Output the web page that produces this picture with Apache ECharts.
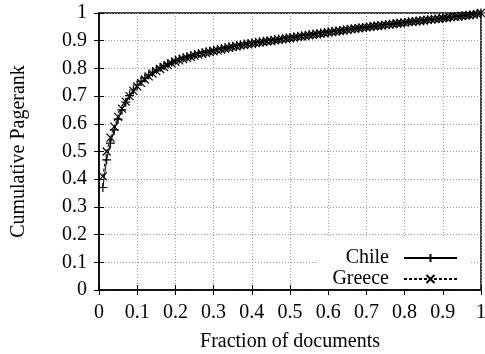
<!DOCTYPE html>
<html><head><meta charset="utf-8">
<script src="https://cdn.jsdelivr.net/npm/echarts@6/dist/echarts.min.js"></script>
<style>html,body{margin:0;padding:0;background:#fff}#c{width:485px;height:354px}</style>
</head><body><div id="c"></div>
<script>
const xs = [0.01,0.02,0.03,0.04,0.05,0.06,0.07,0.08,0.09,0.10,
0.11,0.12,0.13,0.14,0.15,0.16,0.17,0.18,0.19,0.20,
0.21,0.22,0.23,0.24,0.25,0.26,0.27,0.28,0.29,0.30,
0.31,0.32,0.33,0.34,0.35,0.36,0.37,0.38,0.39,0.40,
0.41,0.42,0.43,0.44,0.45,0.46,0.47,0.48,0.49,0.50,
0.51,0.52,0.53,0.54,0.55,0.56,0.57,0.58,0.59,0.60,
0.61,0.62,0.63,0.64,0.65,0.66,0.67,0.68,0.69,0.70,
0.71,0.72,0.73,0.74,0.75,0.76,0.77,0.78,0.79,0.80,
0.81,0.82,0.83,0.84,0.85,0.86,0.87,0.88,0.89,0.90,
0.91,0.92,0.93,0.94,0.95,0.96,0.97,0.98,0.99,1.00];
const chile = [0.370,0.470,0.530,0.578,0.617,0.650,0.678,0.702,0.722,0.740,
0.753,0.765,0.776,0.786,0.795,0.803,0.810,0.817,0.823,0.829,
0.834,0.838,0.842,0.846,0.850,0.854,0.857,0.860,0.863,0.866,
0.869,0.872,0.875,0.878,0.880,0.883,0.885,0.888,0.890,0.892,
0.894,0.896,0.898,0.900,0.902,0.904,0.906,0.908,0.910,0.912,
0.914,0.916,0.918,0.920,0.922,0.924,0.926,0.928,0.930,0.932,
0.934,0.935,0.937,0.939,0.941,0.942,0.944,0.946,0.948,0.949,
0.951,0.953,0.954,0.956,0.958,0.959,0.961,0.963,0.964,0.966,
0.968,0.969,0.971,0.972,0.974,0.976,0.977,0.979,0.980,0.982,
0.984,0.985,0.987,0.988,0.990,0.992,0.993,0.995,0.997,1.000];
const greece = [0.410,0.500,0.550,0.590,0.625,0.655,0.680,0.700,0.719,0.735,
0.748,0.760,0.771,0.781,0.790,0.798,0.805,0.812,0.818,0.824,
0.829,0.834,0.838,0.842,0.846,0.850,0.853,0.856,0.859,0.862,
0.865,0.868,0.871,0.874,0.877,0.879,0.882,0.884,0.887,0.889,
0.891,0.893,0.895,0.897,0.899,0.901,0.903,0.905,0.907,0.909,
0.911,0.913,0.915,0.917,0.919,0.921,0.923,0.925,0.927,0.929,
0.931,0.933,0.935,0.937,0.939,0.941,0.943,0.945,0.947,0.948,
0.950,0.952,0.953,0.955,0.957,0.958,0.960,0.962,0.963,0.965,
0.967,0.968,0.970,0.971,0.973,0.975,0.976,0.978,0.979,0.981,
0.983,0.984,0.986,0.987,0.989,0.991,0.992,0.994,0.996,1.000];
const seriesNames = ['Chile','Greece'];
const xTitle = 'Fraction of documents';
const yTitle = 'Cumulative Pagerank';

const FONT = 'Liberation Serif';
const FS = 20;
const grid = {left:99, right:4, top:13, bottom:64};
const gridLine = {show:true, lineStyle:{color:'#999', width:1, type:[1,2]}};
const pairs = a => xs.map((x,i)=>[x,a[i]]);
const plus = 'path://M0,5L10,5M5,0L5,10';
const cross = 'path://M0,0L10,10M0,10L10,0';

const chart = echarts.init(document.getElementById('c'));
chart.setOption({
  animation:false,
  backgroundColor:'#fff',
  grid:Object.assign({show:true, borderColor:'#000', borderWidth:1.5, backgroundColor:'transparent', containLabel:false, outerBoundsMode:'none'}, grid),
  xAxis:[{
    type:'value', min:0, max:1, interval:0.1,
    name:xTitle, nameLocation:'middle', nameGap:42,
    nameTextStyle:{fontFamily:FONT, fontSize:FS, color:'#000'},
    axisLine:{show:true, onZero:false, lineStyle:{color:'#000', width:1.5}},
    axisTick:{show:true, inside:true, length:5, lineStyle:{color:'#000'}},
    axisLabel:{fontFamily:FONT, fontSize:FS, color:'#000', margin:13, formatter:v=>String(+v.toFixed(1))},
    splitLine:gridLine
  },{
    type:'value', min:0, max:1, interval:0.1, position:'top',
    axisLine:{show:false}, axisLabel:{show:false}, splitLine:{show:false},
    axisTick:{show:true, inside:true, length:5, lineStyle:{color:'#000'}}
  }],
  yAxis:[{
    type:'value', min:0, max:1, interval:0.1,
    name:yTitle, nameLocation:'middle', nameGap:70,
    nameTextStyle:{fontFamily:FONT, fontSize:FS, color:'#000'},
    axisLine:{show:true, onZero:false, lineStyle:{color:'#000', width:1.5}},
    axisTick:{show:true, inside:true, length:5, lineStyle:{color:'#000'}},
    axisLabel:{fontFamily:FONT, fontSize:FS, color:'#000', margin:12, formatter:v=>String(+v.toFixed(1))},
    splitLine:gridLine
  },{
    type:'value', min:0, max:1, interval:0.1, position:'right',
    axisLine:{show:false}, axisLabel:{show:false}, splitLine:{show:false},
    axisTick:{show:true, inside:true, length:5, lineStyle:{color:'#000'}}
  }],
  legend:{
    orient:'vertical', right:15, bottom:65, align:'right',
    backgroundColor:'#fff', padding:[10,12,0,14], itemGap:1,
    itemWidth:53, itemHeight:10,
    formatter:n=>n+'  ',
    textStyle:{fontFamily:FONT, fontSize:FS, color:'#000'},
    data:seriesNames
  },
  series:[{
    name:seriesNames[0], type:'line', data:pairs(chile),
    symbol:plus, symbolSize:9, showSymbol:true,
    color:'#000',
    lineStyle:{color:'#000', width:1},
    itemStyle:{color:'#000', borderColor:'#000', borderWidth:1.2}
  },{
    name:seriesNames[1], type:'line', data:pairs(greece),
    symbol:cross, symbolSize:8, showSymbol:true,
    color:'#000',
    lineStyle:{color:'#000', width:1, type:[3,2]},
    itemStyle:{color:'#000', borderColor:'#000', borderWidth:1.2}
  }]
});
</script></body></html>
